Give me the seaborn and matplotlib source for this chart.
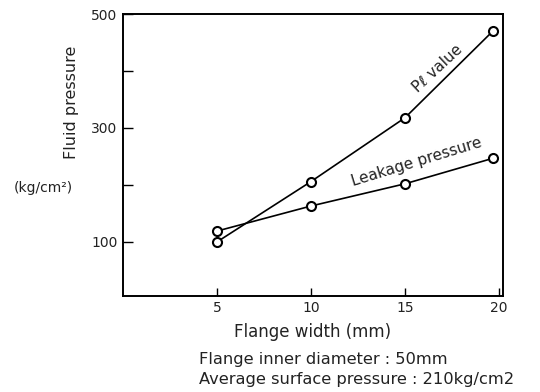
import matplotlib
matplotlib.use("Agg")
import matplotlib.pyplot as plt
import seaborn as sns
import pandas as pd

# data
flange_width_pl = [5, 10, 15, 19.7]
pl_value = [100, 206, 318, 471]
flange_width_leak = [5, 10, 15, 19.7]
leakage_pressure = [119, 163, 202, 247]
x_ticks = [5, 10, 15, 20]
y_major = [100, 300, 500]
y_minor = [200, 400]

sns.set_theme(style="white")
plt.rcParams['font.family'] = ['DejaVu Sans']

df = pd.concat([
    pd.DataFrame({"x": flange_width_pl, "y": pl_value, "series": "Pl"}),
    pd.DataFrame({"x": flange_width_leak, "y": leakage_pressure, "series": "Leak"}),
])

fig = plt.figure(figsize=(5.4, 3.92), dpi=100)
ax = fig.add_axes([0.228, 0.245, 0.703, 0.719])

sns.lineplot(data=df, x="x", y="y", hue="series", palette=["black", "black"],
             marker="o", markersize=6.5, markerfacecolor="white",
             markeredgecolor="black", markeredgewidth=1.5, linewidth=1.2,
             legend=False, ax=ax, sort=False)

ax.set_xlim(0, 20.2)
ax.set_ylim(5, 500)
ax.set_xticks(x_ticks)
ax.set_xticklabels([str(t) for t in x_ticks])
ax.set_yticks(y_major)
ax.set_yticklabels([str(t) for t in y_major])
ax.set_yticks(y_minor, minor=True)
ax.tick_params(axis="both", which="both", direction="in", color="black",
               labelcolor="#222222", labelsize=10, left=True, bottom=True,
               top=False, right=False)
ax.tick_params(axis="y", which="both", length=7, width=1)
ax.tick_params(axis="x", which="major", length=6, width=1)
ax.tick_params(axis="y", which="major", pad=4)
for s in ax.spines.values():
    s.set_color("black")
    s.set_linewidth(1.4)

ax.set_xlabel("Flange width (mm)", fontsize=12, color="#222222", labelpad=6)
ax.set_ylabel("")

fig.text(0.133, 0.74, "Fluid pressure", rotation=90, fontsize=11.5,
         color="#222222", ha="center", va="center")
fig.text(0.025, 0.52, "(kg/cm²)", fontsize=10, color="#222222",
         ha="left", va="center")

ax.text(16.75, 405, "Pℓ value", rotation=43, fontsize=11, color="#222222",
        ha="center", va="center")
ax.text(15.6, 240, "Leakage pressure", rotation=17, fontsize=11,
        color="#222222", ha="center", va="center")

fig.text(0.368, 0.082, "Flange inner diameter : 50mm", fontsize=11.7,
         color="#222222", ha="left", va="center")
fig.text(0.368, 0.033, "Average surface pressure : 210kg/cm2", fontsize=11.7,
         color="#222222", ha="left", va="center")

fig.savefig("out.png", dpi=100)
